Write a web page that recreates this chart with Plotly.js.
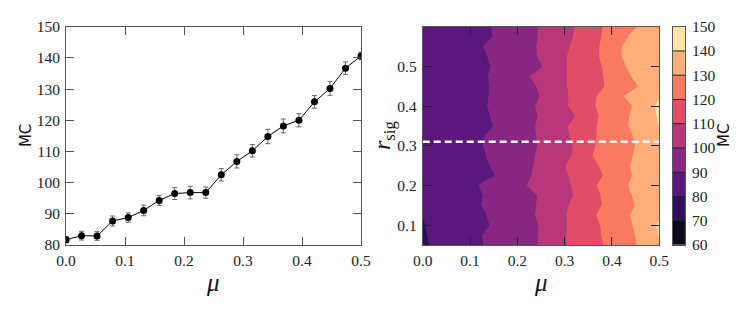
<!DOCTYPE html>
<html><head><meta charset="utf-8">
<script src="https://cdn.plot.ly/plotly-3.0.1.min.js"></script>
<style>html,body{margin:0;padding:0;background:#fff}#chart{width:747px;height:312px}</style>
</head><body><div id="chart"></div>
<script>
// ---- Left panel data: MC vs mu (at r_sig = 0.31) ----
const mu = [0, 0.0263, 0.0526, 0.0789, 0.1053, 0.1316, 0.1579, 0.1842, 0.2105, 0.2368,
            0.2632, 0.2895, 0.3158, 0.3421, 0.3684, 0.3947, 0.4211, 0.4474, 0.4737, 0.5];
const mcValues = [81.7, 83.0, 82.9, 87.7, 88.8, 91.1, 94.3, 96.5, 96.8, 96.8,
                  102.5, 106.8, 110.2, 114.8, 118.2, 120.0, 125.9, 130.2, 136.7, 140.6];
const mcErrors = [1.0, 1.4, 1.4, 1.6, 1.5, 1.7, 1.6, 1.9, 2.0, 1.8,
                  2.0, 2.1, 2.0, 2.3, 2.2, 2.1, 2.0, 2.2, 2.0, 1.2];
const xTickVals = [0, 0.1, 0.2, 0.3, 0.4, 0.5];
const xTickText = ['0.0', '0.1', '0.2', '0.3', '0.4', '0.5'];
const yTickVals = [80, 90, 100, 110, 120, 130, 140, 150];

// ---- Right panel data: MC over (mu, r_sig), one row per r_sig ----
const rsig = [0.05, 0.075, 0.1, 0.125, 0.15, 0.175, 0.2, 0.225, 0.25, 0.275, 0.3, 0.325,
              0.35, 0.375, 0.4, 0.425, 0.45, 0.475, 0.5, 0.525, 0.55, 0.575, 0.6];
const r0050 = [78.8, 81.1, 83.4, 85.7, 88, 90.3, 92.5, 94.7, 96.9, 99.1, 102.9, 107.8, 111.8, 115, 118.2, 121.7, 125.5, 129.3, 133.6, 138];
const r0075 = [79.2, 81.5, 83.7, 86, 88.3, 90.5, 92.7, 94.8, 97, 99.1, 102.9, 107.8, 111.9, 115.3, 118.8, 122.4, 126.1, 129.8, 135, 140.5];
const r0100 = [79.6, 81.5, 83.5, 85.4, 87.3, 89.2, 91.5, 94, 96.5, 98.9, 102.7, 107.4, 111.7, 115.4, 119.1, 122.8, 126.6, 130.6, 136.8, 141];
const r0125 = [80.1, 82, 84, 85.9, 87.8, 89.7, 92.2, 94.8, 97.4, 99.9, 103.9, 107.8, 111.9, 116.2, 120.3, 124, 127.7, 131.4, 135.2, 139];
const r0150 = [81, 82.9, 84.8, 86.7, 88.6, 90.6, 92.8, 95.1, 97.4, 99.6, 103.3, 107.2, 111.1, 114.9, 118.6, 122.4, 126.1, 129.8, 134.1, 138.5];
const r0175 = [81.8, 83.5, 85.2, 86.9, 88.6, 90.3, 92.6, 94.8, 97.1, 99.4, 102.6, 106.2, 109.7, 114.2, 118.8, 122.9, 126.9, 130.8, 134.9, 139];
const r0200 = [82.5, 84.1, 85.8, 87.4, 89, 91.1, 93.7, 96.4, 99, 101.8, 104.6, 107.3, 110.2, 115.1, 120.1, 124, 127.9, 132, 136.1, 140.3];
const r0225 = [82, 83.4, 84.7, 86.1, 87.4, 88.8, 90.3, 93.8, 97.4, 100.9, 104.3, 107.6, 111.1, 114.6, 118.2, 122.1, 126.5, 130.9, 135.2, 139.5];
const r0250 = [82.2, 83.6, 85, 86.4, 87.8, 89.2, 91.3, 94.3, 97.3, 100.4, 104.4, 108.3, 112.1, 115.7, 119.4, 123.3, 127.4, 131.4, 135.2, 139];
const r0275 = [82.4, 83.9, 85.4, 86.8, 88.3, 89.8, 92.2, 94.8, 97.4, 99.9, 103.4, 106.7, 110.2, 117, 121.6, 124.5, 127.4, 130.4, 134.4, 138.5];
const r0300 = [82.5, 84, 85.6, 87.1, 88.7, 90.3, 92.6, 94.8, 97.1, 99.4, 102.6, 106.2, 109.7, 115.5, 120.7, 123.8, 126.8, 129.8, 134.1, 138.5];
const r0325 = [82.3, 83.8, 85.4, 86.9, 88.4, 90, 92.4, 94.8, 97.2, 99.6, 103.2, 106.9, 110.9, 115.7, 120.3, 123.6, 127, 130.4, 134.7, 139];
const r0350 = [82, 83.4, 84.8, 86.1, 87.5, 88.9, 90.6, 93.7, 96.8, 99.9, 103.7, 107.4, 111.3, 115.7, 120.1, 124, 127.9, 132, 136.1, 140.2];
const r0375 = [82, 83.4, 84.9, 86.3, 87.8, 89.2, 91.2, 93.9, 96.6, 99.3, 102.4, 105.6, 108.9, 113.7, 119.4, 123.5, 127.5, 131.7, 136.3, 141];
const r0400 = [82, 83.5, 85, 86.5, 88.1, 89.6, 91.9, 94.6, 97.3, 99.9, 103.7, 107.4, 111.4, 116.1, 120.5, 123.8, 127.1, 130.6, 137.4, 141.5];
const r0425 = [82, 83.5, 85, 86.4, 87.9, 89.4, 91.5, 93.9, 96.3, 98.7, 102.1, 106.8, 111.3, 115.7, 120.1, 124.8, 129.5, 133, 136.3, 139.6];
const r0450 = [82.3, 83.7, 85.1, 86.5, 87.9, 89.3, 91.4, 94.1, 96.9, 99.6, 103.5, 107.7, 111.5, 114.7, 118, 121.4, 125.1, 128.8, 133, 137.5];
const r0475 = [82.2, 83.6, 85.1, 86.5, 88, 89.4, 91.9, 95, 98.1, 101.3, 104.7, 108.1, 111.5, 114.7, 118, 121.8, 126.8, 131.2, 134.6, 138];
const r0500 = [82, 83.4, 84.9, 86.3, 87.8, 89.2, 91.1, 93.4, 95.8, 98.1, 101.2, 107.3, 111.8, 115.1, 118.3, 122.8, 128.7, 132.6, 135.8, 139];
const r0525 = [82.3, 83.8, 85.2, 86.7, 88.1, 89.6, 91.8, 94.3, 96.8, 99.3, 103.2, 107.6, 111.7, 115.4, 119.1, 124.4, 130.1, 133.5, 136.9, 140.2];
const r0550 = [82.5, 84, 85.6, 87.1, 88.7, 90.3, 92.7, 95, 97.3, 99.6, 103.1, 106.9, 110.8, 114.9, 119, 124.4, 130.1, 132.7, 135.4, 138];
const r0575 = [82.2, 83.6, 84.9, 86.3, 87.6, 89, 90.7, 93.6, 96.4, 99.2, 102.6, 106.2, 109.7, 114, 118.4, 123.2, 128.1, 131.9, 135, 138];
const r0600 = [82, 83.4, 84.8, 86.3, 87.7, 89.1, 91, 93.8, 96.5, 99.3, 102.5, 105.8, 109.2, 113.6, 118.3, 122.3, 125.8, 129.4, 133.2, 137];
const mcGrid = [r0050, r0075, r0100, r0125, r0150, r0175, r0200, r0225, r0250, r0275, r0300, r0325,
                r0350, r0375, r0400, r0425, r0450, r0475, r0500, r0525, r0550, r0575, r0600];
const rTickVals = [0.1, 0.2, 0.3, 0.4, 0.5];
const rTickText = ['0.1', '0.2', '0.3', '0.4', '0.5'];
const cutMu = [0, 0.5];
const cutR = [0.31, 0.31];

// ---- Colour bar levels ----
const levels = [60, 70, 80, 90, 100, 110, 120, 130, 140, 150];
const magmaSteps = [[0, '#000004'], [0.1, '#0b0820'], [0.2, '#2e0f5d'], [0.3, '#5b187c'], [0.4, '#882781'],
                    [0.5, '#b73779'], [0.6, '#e14d67'], [0.7, '#f97a60'], [0.8, '#feaf79'], [0.9, '#fde3a6'], [1, '#fcfdbf']];

const serif = '"Liberation Serif", "DejaVu Serif", serif';
const sans = '"DejaVu Sans", sans-serif';
const frame = '#555';
const tickFont = {family: serif, size: 15.5, color: '#222'};

const bandCenters = levels.slice(0, -1).map((v, i) => (v + levels[i + 1]) / 2);

const traces = [
  {
    type: 'scatter', mode: 'lines+markers', x: mu, y: mcValues, xaxis: 'x', yaxis: 'y',
    line: {color: '#000', width: 1},
    marker: {color: '#000', size: 7},
    error_y: {type: 'data', array: mcErrors, visible: true, color: '#666', thickness: 1, width: 2.5},
    showlegend: false, hoverinfo: 'skip'
  },
  {
    type: 'contour', x: mu, y: rsig, z: mcGrid, xaxis: 'x2', yaxis: 'y2',
    autocontour: false,
    contours: {start: 60, end: 150, size: 10, coloring: 'fill', showlines: false},
    line: {width: 0, smoothing: 0},
    colorscale: magmaSteps, showscale: false, hoverinfo: 'skip'
  },
  {
    type: 'scatter', mode: 'lines', x: cutMu, y: cutR, xaxis: 'x2', yaxis: 'y2',
    line: {color: '#fff', width: 2.6, dash: '7px,4px'},
    showlegend: false, hoverinfo: 'skip'
  },
  {
    type: 'heatmap', x: [0], y: bandCenters, z: bandCenters.map(v => [v]), xaxis: 'x3', yaxis: 'y3',
    colorscale: magmaSteps, zmin: 55, zmax: 155, showscale: false, hoverinfo: 'skip'
  }
];

const axBase = {
  showgrid: false, zeroline: false, showline: true, linecolor: frame, linewidth: 1,
  mirror: 'allticks', ticks: 'inside', ticklen: 8, tickwidth: 1, tickcolor: frame,
  tickfont: tickFont, fixedrange: true
};

const shapes = levels.slice(1, -1).map(v => ({
  type: 'line', xref: 'x3 domain', yref: 'y3', x0: 0, x1: 1, y0: v, y1: v,
  line: {color: '#222', width: 1}
}));

const layout = {
  width: 747, height: 312,
  margin: {l: 0, r: 0, t: 0, b: 0},
  paper_bgcolor: '#fff', plot_bgcolor: '#fff',
  showlegend: false,
  font: {family: serif, color: '#222'},
  xaxis: Object.assign({}, axBase, {domain: [0.0884, 0.4833], anchor: 'y', range: [0, 0.5],
    tickmode: 'array', tickvals: xTickVals, ticktext: xTickText, ticklabelstandoff: 1}),
  yaxis: Object.assign({}, axBase, {domain: [0.2147, 0.9144], anchor: 'x', range: [80, 150],
    tickmode: 'array', tickvals: yTickVals, ticklabelstandoff: 2}),
  xaxis2: Object.assign({}, axBase, {domain: [0.5659, 0.8826], anchor: 'y2', range: [0, 0.5],
    tickmode: 'array', tickvals: xTickVals, ticktext: xTickText, tickcolor: '#222', ticklabelstandoff: 1}),
  yaxis2: Object.assign({}, axBase, {domain: [0.2147, 0.9144], anchor: 'x2', range: [0.05, 0.6],
    tickmode: 'array', tickvals: rTickVals, ticktext: rTickText, tickcolor: '#222', ticklabelstandoff: 2}),
  xaxis3: {domain: [0.9009, 0.9170], anchor: 'y3', range: [-0.5, 0.5], showgrid: false, zeroline: false,
    showline: true, mirror: true, linecolor: frame, ticks: '', showticklabels: false, fixedrange: true},
  yaxis3: {domain: [0.2147, 0.9144], anchor: 'x3', side: 'right', range: [60, 150], showgrid: false,
    zeroline: false, showline: true, mirror: true, linecolor: frame, ticks: '',
    tickmode: 'array', tickvals: levels, tickfont: tickFont, ticklabelstandoff: 3, fixedrange: true},
  shapes: shapes,
  annotations: [
    {text: '<i>μ</i>', xref: 'paper', yref: 'paper', x: 0.2858, y: 0.093, showarrow: false,
     xanchor: 'center', yanchor: 'middle', font: {family: serif, size: 25, color: '#111'}},
    {text: '<i>μ</i>', xref: 'paper', yref: 'paper', x: 0.7242, y: 0.093, showarrow: false,
     xanchor: 'center', yanchor: 'middle', font: {family: serif, size: 25, color: '#111'}},
    {text: 'MC', xref: 'paper', yref: 'paper', x: 0.0348, y: 0.567, showarrow: false, textangle: -90,
     xanchor: 'center', yanchor: 'middle', font: {family: sans, size: 15, color: '#111'}},
    {text: 'MC', xref: 'paper', yref: 'paper', x: 0.9699, y: 0.566, showarrow: false, textangle: -90,
     xanchor: 'center', yanchor: 'middle', font: {family: sans, size: 15, color: '#111'}},
    {text: '<i>r</i><sub>sig</sub>', xref: 'paper', yref: 'paper', x: 0.514, y: 0.567, showarrow: false, textangle: -90,
     xanchor: 'center', yanchor: 'middle', font: {family: serif, size: 24, color: '#111'}}
  ]
};

Plotly.newPlot('chart', traces, layout, {displayModeBar: false, staticPlot: true});
</script>
</body></html>
